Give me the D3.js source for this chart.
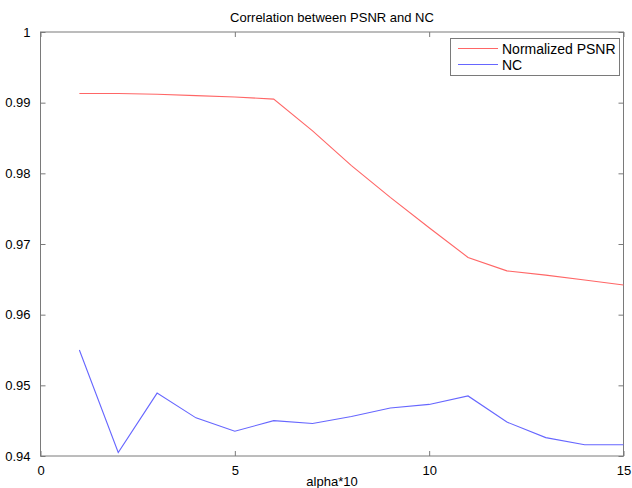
<!DOCTYPE html>
<html>
<head>
<meta charset="utf-8">
<script src="https://cdn.jsdelivr.net/npm/d3@7"></script>
<style>
  body { margin: 0; background: #fff; }
  svg { display: block; font-family: "Liberation Sans", Arial, sans-serif; }
</style>
</head>
<body>
<svg id="chart" width="632" height="488"></svg>
<script>
// values
const alpha = [1, 2, 3, 4, 5, 6, 7, 8, 9, 10, 11, 12, 13, 14, 15];
const psnr = [0.9913, 0.9913, 0.9912, 0.9910, 0.9908, 0.9905, 0.9860, 0.9811, 0.9766, 0.9723,
  0.9681, 0.9662, 0.9656, 0.9649, 0.9642];
const nc = [0.9550, 0.9405, 0.9489, 0.9454, 0.9435, 0.9450, 0.9446, 0.9456, 0.9468, 0.9473,
  0.9485, 0.9448, 0.9426, 0.9416, 0.9416];
const xTicks = [0, 5, 10, 15];
const yTicks = [0.94, 0.95, 0.96, 0.97, 0.98, 0.99, 1];
const seriesNames = ['Normalized PSNR', 'NC'];
const seriesColors = ['#ff6666', '#6666ff'];

const svg = d3.select('#chart');
const m = { left: 40.5, right: 623.5, top: 32, bottom: 456 };

const x = d3.scaleLinear().domain([0, 15]).range([m.left, m.right]);
const y = d3.scaleLinear().domain([0.94, 1]).range([m.bottom, m.top]);

const axisColor = '#7a7a7a';

// frame
svg.append('rect')
  .attr('x', m.left).attr('y', m.top)
  .attr('width', m.right - m.left).attr('height', m.bottom - m.top)
  .attr('fill', 'none').attr('stroke', axisColor).attr('stroke-width', 1);

const fmt = d => d === 1 ? '1' : d3.format('.2f')(d);

// axes with inward ticks, like matlab
const styleAxis = g => {
  g.select('.domain').remove();
  g.selectAll('.tick line').attr('stroke', axisColor);
  g.selectAll('.tick text').attr('fill', '#000').attr('font-size', 13)
    .attr('font-family', '"Liberation Sans", Arial, sans-serif');
};

svg.append('g')
  .attr('transform', 'translate(0,' + m.bottom + ')')
  .call(d3.axisBottom(x).tickValues(xTicks).tickFormat(d3.format('d')).tickSizeInner(-5).tickPadding(10))
  .call(styleAxis);

svg.append('g')
  .attr('transform', 'translate(0,' + m.top + ')')
  .call(d3.axisTop(x).tickValues(xTicks).tickFormat('').tickSizeInner(-5))
  .call(styleAxis);

svg.append('g')
  .attr('transform', 'translate(' + m.left + ',0)')
  .call(d3.axisLeft(y).tickValues(yTicks).tickFormat(fmt).tickSizeInner(-5).tickPadding(10))
  .call(styleAxis);

svg.append('g')
  .attr('transform', 'translate(' + m.right + ',0)')
  .call(d3.axisRight(y).tickValues(yTicks).tickFormat('').tickSizeInner(-5))
  .call(styleAxis);

// lines
const line = d3.line()
  .x((d, i) => x(alpha[i]))
  .y(d => y(d));

[psnr, nc].forEach((s, k) => {
  svg.append('path')
    .datum(s)
    .attr('fill', 'none')
    .attr('stroke', seriesColors[k])
    .attr('stroke-width', 1.1)
    .attr('d', line);
});

// title and label
svg.append('text')
  .attr('x', (m.left + m.right) / 2).attr('y', 22)
  .attr('text-anchor', 'middle').attr('font-size', 13)
  .text('Correlation between PSNR and NC');

svg.append('text')
  .attr('x', (m.left + m.right) / 2).attr('y', 486)
  .attr('text-anchor', 'middle').attr('font-size', 13)
  .text('alpha*10');

// legend
const legend = svg.append('g');
legend.append('rect')
  .attr('x', 450.5).attr('y', 38.5)
  .attr('width', 169).attr('height', 37)
  .attr('fill', '#fff').attr('stroke', axisColor);

seriesNames.forEach((name, k) => {
  const ly = 48.5 + k * 16;
  legend.append('line')
    .attr('x1', 458).attr('x2', 498)
    .attr('y1', ly).attr('y2', ly)
    .attr('stroke', seriesColors[k]).attr('stroke-width', 1.1);
  legend.append('text')
    .attr('x', 502).attr('y', ly + 5)
    .attr('font-size', 14)
    .text(name);
});
</script>
</body>
</html>
